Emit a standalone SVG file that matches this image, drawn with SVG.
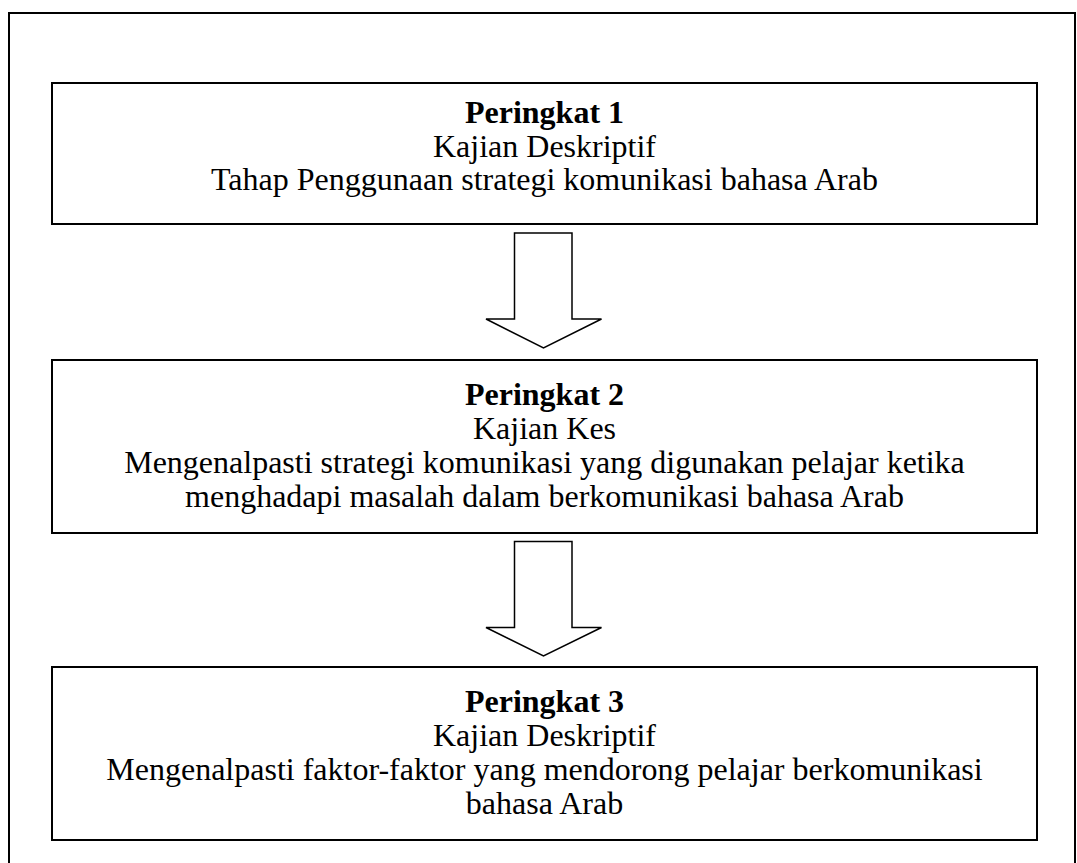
<svg xmlns="http://www.w3.org/2000/svg" width="1077" height="863" viewBox="0 0 1077 863">
<style>
.box{fill:#fff;stroke:#000;stroke-width:2}
.frame{fill:none;stroke:#000;stroke-width:2}
.arrow{fill:#fff;stroke:#000;stroke-width:1.5;stroke-linejoin:miter}
text{font-family:"Liberation Serif","Times New Roman",serif;font-size:32px;fill:#000;text-anchor:middle}
.b{font-weight:bold}
</style>
<rect width="1077" height="863" fill="#fff"/>
<rect class="frame" x="9" y="13" width="1066" height="870"/>
<g id="node1">
<rect class="box" x="52" y="83" width="985" height="141"/>
<text x="544.5" y="123" class="b">Peringkat 1</text>
<text x="544.5" y="157">Kajian Deskriptif</text>
<text x="544.5" y="190">Tahap Penggunaan strategi komunikasi bahasa Arab</text>
</g>
<g id="node2">
<rect class="box" x="52" y="360" width="985" height="173"/>
<text x="544.5" y="405" class="b">Peringkat 2</text>
<text x="544.5" y="439">Kajian Kes</text>
<text x="544.5" y="473">Mengenalpasti strategi komunikasi yang digunakan pelajar ketika</text>
<text x="544.5" y="507">menghadapi masalah dalam berkomunikasi bahasa Arab</text>
</g>
<g id="node3">
<rect class="box" x="52" y="667" width="985" height="173"/>
<text x="544.5" y="712" class="b">Peringkat 3</text>
<text x="544.5" y="746">Kajian Deskriptif</text>
<text x="544.5" y="780">Mengenalpasti faktor-faktor yang mendorong pelajar berkomunikasi</text>
<text x="544.5" y="814">bahasa Arab</text>
</g>
<g id="connectors">
<polygon class="arrow" points="514.5,233 572,233 572,319 601.5,319 543.5,348 486,319 514.5,319"/>
<polygon class="arrow" points="514.5,541.5 572,541.5 572,627.5 601.5,627.5 543.5,656 486,627.5 514.5,627.5"/>
</g>
</svg>
